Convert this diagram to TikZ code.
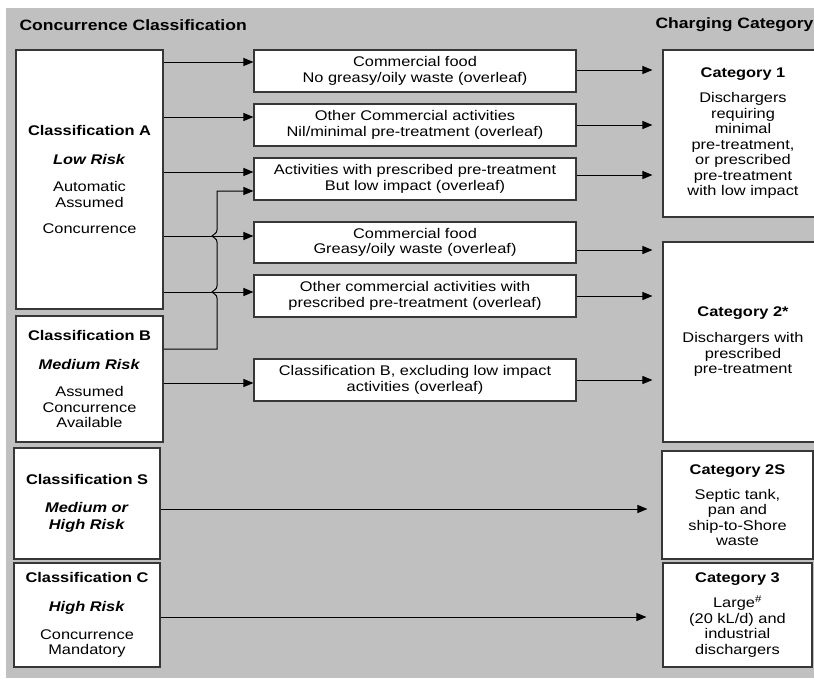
\documentclass[tikz,border=0pt]{standalone}
\usepackage{fontspec}
\setmainfont[FakeStretch=1.17]{Liberation Sans}
\usepackage{tikz}
\usetikzlibrary{arrows.meta}
\definecolor{bggray}{RGB}{192,192,192}
\definecolor{edge}{RGB}{55,55,55}
\tikzset{
  box/.style={draw=edge, fill=white, line width=1.1pt, inner sep=0pt, align=center,
    font=\fontsize{14}{15.5}\selectfont},
  arr/.style={-{Triangle[length=10pt,width=8pt]}, line width=1pt},
  head/.style={anchor=west, font=\fontsize{15}{18}\selectfont\bfseries}
}
\begin{document}
\begin{tikzpicture}[x=1pt,y=-1pt]
 \useasboundingbox (0,0) rectangle (814,678);
 \fill[bggray] (6,8) rectangle (814,678);
 %headings
    \node[head] (hl) at (16,25) {Concurrence Classification};
    \node[head] (hr) at (652,25) {Charging Category};
 %LHS classifications
    \node[box, minimum width=147pt, minimum height=259pt] (clA) at (89.5,179.5)
      {\textbf{Classification A}\\[13.5pt] \textbf{\textit{Low Risk}}\\[11.5pt]
       Automatic\\Assumed\\[10.5pt] Concurrence};
    \node[box, minimum width=147pt, minimum height=126pt] (clB) at (89.5,379)
      {\textbf{Classification B}\\[13.5pt] \textbf{\textit{Medium Risk}}\\[11.5pt]
       Assumed\\Concurrence\\Available};
    \node[box, minimum width=146pt, minimum height=111pt] (clS) at (87,503.5)
      {\textbf{Classification S}\\[12.5pt] \textbf{\textit{Medium or}}\\[1.5pt]
       \textbf{\textit{High Risk}}};
    \node[box, minimum width=146pt, minimum height=104pt] (clC) at (87,615)
      {\textbf{Classification C}\\[13.5pt] \textbf{\textit{High Risk}}\\[12.5pt]
       Concurrence\\Mandatory};
 %middle activities
    \node[box, minimum width=322pt, minimum height=42pt] (mid1) at (415,71)
      {Commercial food\\No greasy/oily waste (overleaf)};
    \node[box, minimum width=322pt, minimum height=42pt] (mid2) at (415,125)
      {Other Commercial activities\\Nil/minimal pre-treatment (overleaf)};
    \node[box, minimum width=322pt, minimum height=42pt] (mid3) at (415,179)
      {Activities with prescribed pre-treatment\\But low impact (overleaf)};
    \node[box, minimum width=322pt, minimum height=41pt] (mid4) at (415,242.5)
      {Commercial food\\Greasy/oily waste (overleaf)};
    \node[box, minimum width=322pt, minimum height=42pt] (mid5) at (415,296)
      {Other commercial activities with\\prescribed pre-treatment (overleaf)};
    \node[box, minimum width=322pt, minimum height=42pt] (mid6) at (415,380)
      {Classification B, excluding low impact\\activities (overleaf)};
 %RHS categories
    \node[box, minimum width=160pt, minimum height=167pt] (cat1) at (743,133.5)
      {\textbf{Category 1}\\[9.5pt] Dischargers\\requiring\\minimal\\pre-treatment,\\
       or prescribed\\pre-treatment\\with low impact};
    \node[box, minimum width=160pt, minimum height=200pt] (cat2) at (743,342)
      {\textbf{Category 2*}\\[10.5pt] Dischargers with\\prescribed\\pre-treatment};
    \node[box, minimum width=151pt, minimum height=108pt] (cat2S) at (737.5,505)
      {\textbf{Category 2S}\\[9.5pt] Septic tank,\\pan and\\ship-to-Shore\\waste};
    \node[box, minimum width=149pt, minimum height=104pt] (cat3) at (737.5,615)
      {\textbf{Category 3}\\[9.5pt] Large\textsuperscript{\#}\\(20 kL/d) and\\industrial\\dischargers};
 %LHS arrows
    \draw[arr] (clA.east |- 0,62) -- (mid1.west |- 0,62);
    \draw[arr] (clA.east |- 0,117) -- (mid2.west |- 0,117);
    \draw[arr] (clA.east |- 0,172) -- (mid3.west |- 0,172);
    \draw[arr] (clA.east |- 0,236) -- (mid4.west |- 0,236);
    \draw[arr] (clA.east |- 0,292) -- (mid5.west |- 0,292);
    \draw[arr] (clB.east |- 0,383) -- (mid6.west |- 0,383);
    \draw[arr] (clB.east |- 0,349) -- (217,349) -- (217,298)
      .. controls (217,294) and (213,294) .. (212,292) .. controls (213,290) and (217,290) .. (217,286)
      -- (217,242)
      .. controls (217,238) and (213,238) .. (212,236) .. controls (213,234) and (217,234) .. (217,230)
      -- (217,191) -- (mid3.west |- 0,191);
    \draw[arr, shorten >=14pt] (clS.east |- 0,509) -- (cat2S.west |- 0,509);
    \draw[arr, shorten >=16pt] (clC.east |- 0,617) -- (cat3.west |- 0,617);
 %RHS arrows
    \draw[arr, shorten >=10pt] (mid1.east |- 0,70) -- (cat1.west |- 0,70);
    \draw[arr, shorten >=10pt] (mid2.east |- 0,125) -- (cat1.west |- 0,125);
    \draw[arr, shorten >=10pt] (mid3.east |- 0,175) -- (cat1.west |- 0,175);
    \draw[arr, shorten >=10pt] (mid4.east |- 0,250) -- (cat2.west |- 0,250);
    \draw[arr, shorten >=10pt] (mid5.east |- 0,296) -- (cat2.west |- 0,296);
    \draw[arr, shorten >=10pt] (mid6.east |- 0,380) -- (cat2.west |- 0,380);
\end{tikzpicture}
\end{document}
